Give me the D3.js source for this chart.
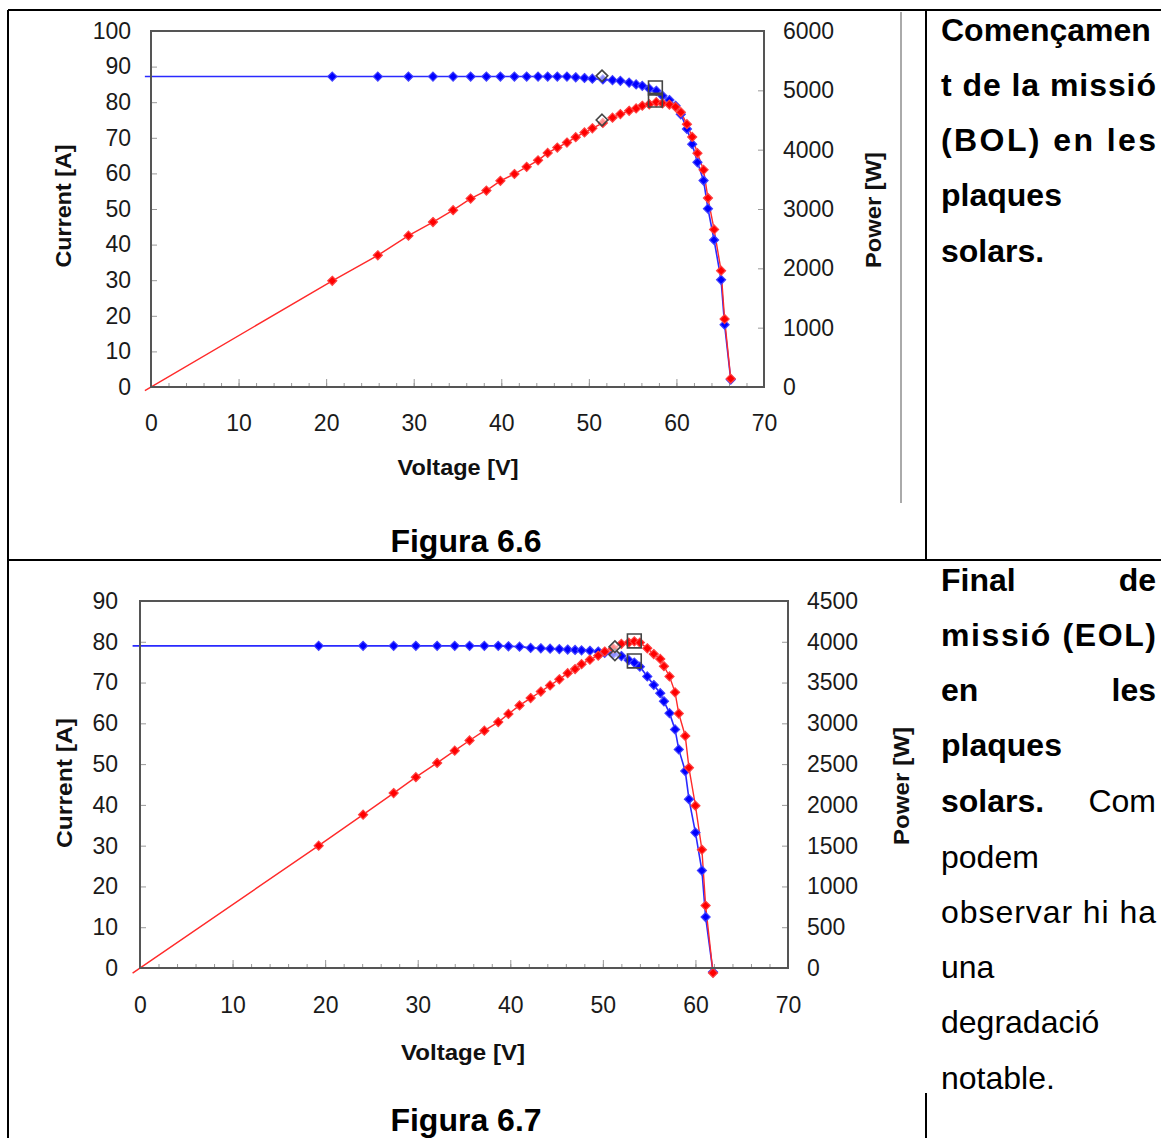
<!DOCTYPE html>
<html lang="ca">
<head>
<meta charset="utf-8">
<title>Figura 6.6 i 6.7</title>
<script src="https://cdn.jsdelivr.net/npm/d3@7"></script>
<style>
  body { margin: 0; background: #fff; }
  svg text { font-family: "Liberation Sans", Arial, sans-serif; }
  .tick text { font-size: 23px; fill: #1a1a1a; }
  .tick line { stroke: #999; }
  .axis-title { font-size: 22px; font-weight: bold; fill: #111; }
  .doc { font-size: 32px; fill: #000; }
  .bold { font-weight: bold; }
</style>
</head>
<body>
<div id="page"></div>
<script>
"use strict"

// Figura 6.6 - començament de la missió (BOL)
var voltBOL = [-0.7, 20.7, 25.9, 29.4, 32.2, 34.5, 36.5, 38.3, 39.9, 41.5, 42.9, 44.2, 45.3, 46.4, 47.5,
               48.5, 49.5, 50.4, 51.6, 52.7, 53.6, 54.6, 55.4, 56.1, 56.9, 57.7, 58.4, 59.2, 59.9, 60.5,
               61.2, 61.8, 62.4, 63.1, 63.6, 64.3, 65.1, 65.5, 66.2];
var currentBOL = [87.2, 87.2, 87.2, 87.2, 87.2, 87.2, 87.2, 87.2, 87.2, 87.2, 87.2, 87.2, 87.2, 87.2, 87.2,
                  87.0, 86.8, 86.6, 86.4, 86.2, 86.0, 85.5, 85.0, 84.6, 83.8, 83.2, 81.8, 80.6, 79.0, 76.6,
                  72.5, 68.2, 63.1, 58.0, 50.1, 41.3, 30.1, 17.5, 2.1];
var powerBOL = [-61, 1790, 2220, 2550, 2780, 2980, 3175, 3310, 3475, 3590, 3710, 3820, 3945, 4035, 4120,
                4210, 4290, 4360, 4450, 4540, 4600, 4655, 4695, 4740, 4765, 4800, 4780, 4760, 4720, 4630,
                4430, 4215, 3940, 3660, 3185, 2655, 1960, 1145, 140];
// punts marcats: [volts, corrent, potència]
var diamondBOL = [51.5, 87.4, 4500];
var squareBOL = [57.6, 84.0, 4835];

// Figura 6.7 - final de missió (EOL)
var voltEOL = [-0.8, 19.3, 24.1, 27.4, 29.8, 32.1, 34.0, 35.6, 37.2, 38.7, 39.8, 41.0, 42.2, 43.3, 44.3,
               45.3, 46.2, 47.0, 47.7, 48.6, 49.5, 50.2, 51.1, 52.0, 52.8, 53.4, 54.0, 54.8, 55.5, 56.2,
               56.6, 57.2, 57.8, 58.2, 58.9, 59.3, 60.0, 60.7, 61.1, 61.9];
var currentEOL = [79.0, 79.0, 79.0, 79.0, 79.0, 79.0, 79.0, 79.0, 79.0, 79.0, 78.9, 78.8, 78.5, 78.4, 78.3,
                  78.2, 78.1, 78.0, 77.9, 77.8, 77.6, 77.3, 77.0, 76.5, 75.5, 74.9, 73.9, 71.5, 69.4, 67.4,
                  65.4, 62.5, 58.5, 53.6, 48.3, 41.4, 33.2, 23.9, 12.5, -1.0];
var powerEOL = [-63, 1500, 1880, 2145, 2340, 2515, 2665, 2790, 2910, 3015, 3115, 3220, 3310, 3390, 3465,
                3540, 3615, 3665, 3725, 3780, 3830, 3880, 3920, 3975, 3990, 4005, 3990, 3920, 3850, 3790,
                3700, 3575, 3380, 3120, 2845, 2455, 1990, 1450, 765, -60];
var diamondEOL = [51.3, 76.8, 3940];
var squareEOL = [53.4, 75.3, 4010];

// eixos
var voltTicks = [0, 10, 20, 30, 40, 50, 60, 70];
var voltMinor = d3.range(0, 71, 2);
var currentTicksBOL = [0, 10, 20, 30, 40, 50, 60, 70, 80, 90, 100];
var powerTicksBOL = [0, 1000, 2000, 3000, 4000, 5000, 6000];
var currentTicksEOL = [0, 10, 20, 30, 40, 50, 60, 70, 80, 90];
var powerTicksEOL = [0, 500, 1000, 1500, 2000, 2500, 3000, 3500, 4000, 4500];

var svg = d3.select('#page').append('svg')
  .attr('width', 1161).attr('height', 1138);

function zip(v, i, p) {
  return v.map(function (d, k) { return {v: d, i: i[k], p: p[k]}; });
}

function drawChart(c) {
  var g = svg.append('g');
  var rows = zip(c.volt, c.current, c.power);
  var x = d3.scaleLinear().domain([0, 70]).range([c.left, c.right]);
  var yI = d3.scaleLinear().domain([0, c.iMax]).range([c.bottom, c.top]);
  var yP = d3.scaleLinear().domain([0, c.pMax]).range([c.bottom, c.top]);
  var plain = d3.format('d');

  function clean(sel) { sel.select('.domain').remove(); }

  g.append('g').attr('transform', 'translate(' + c.left + ',0)')
    .call(d3.axisLeft(yI).tickValues(c.iTicks).tickFormat(plain)
      .tickSizeInner(-6).tickSizeOuter(0).tickPadding(c.padL))
    .call(clean);
  g.append('g').attr('transform', 'translate(' + c.right + ',0)')
    .call(d3.axisRight(yP).tickValues(c.pTicks).tickFormat(plain)
      .tickSizeInner(-6).tickSizeOuter(0).tickPadding(c.padR))
    .call(clean);
  g.append('g').attr('transform', 'translate(0,' + c.bottom + ')')
    .call(d3.axisBottom(x).tickValues(voltMinor).tickSizeInner(-4).tickSizeOuter(0).tickFormat(''))
    .call(clean);
  g.append('g').attr('transform', 'translate(0,' + c.bottom + ')')
    .call(d3.axisBottom(x).tickValues(voltTicks).tickFormat(plain)
      .tickSizeInner(-8).tickSizeOuter(0).tickPadding(c.padB))
    .call(clean);
  g.selectAll('.tick text').attr('font-family', null).attr('font-size', null);

  // corbes
  var lineI = d3.line().x(function (d) { return x(d.v); }).y(function (d) { return yI(d.i); });
  var lineP = d3.line().x(function (d) { return x(d.v); }).y(function (d) { return yP(d.p); });

  g.append('path').datum(rows).attr('d', lineI)
    .attr('fill', 'none').attr('stroke', '#2a2aff').attr('stroke-width', 1.6);
  g.append('path').datum(rows).attr('d', lineP)
    .attr('fill', 'none').attr('stroke', '#ff2a2a').attr('stroke-width', 1.4);

  var marker = d3.symbol().type(d3.symbolDiamond2).size(52);
  var pts = rows.filter(function (d) { return d.v > 1; });
  g.selectAll('.mi').data(pts).enter().append('path')
    .attr('d', marker)
    .attr('transform', function (d) { return 'translate(' + x(d.v) + ',' + yI(d.i) + ')'; })
    .attr('fill', '#0000ff').attr('stroke', '#4040ff').attr('stroke-width', 1.2);
  g.selectAll('.mp').data(pts).enter().append('path')
    .attr('d', marker)
    .attr('transform', function (d) { return 'translate(' + x(d.v) + ',' + yP(d.p) + ')'; })
    .attr('fill', '#ff0000').attr('stroke', '#ff4040').attr('stroke-width', 1.2);

  // rombe i quadrat (punts de referència)
  var dia = d3.symbol().type(d3.symbolDiamond2).size(85);
  var sq = d3.symbol().type(d3.symbolSquare).size(190);
  [[c.diamond, dia, 'rgba(255,255,255,0.55)'], [c.square, sq, 'none']].forEach(function (s) {
    var m = s[0];
    [yI(m[1]), yP(m[2])].forEach(function (yy) {
      g.append('path').attr('d', s[1])
        .attr('transform', 'translate(' + x(m[0]) + ',' + yy + ')')
        .attr('fill', s[2]).attr('stroke', '#444').attr('stroke-width', 1.6);
    });
  });

  // marc
  g.append('rect')
    .attr('x', c.left).attr('y', c.top)
    .attr('width', c.right - c.left).attr('height', c.bottom - c.top)
    .attr('fill', 'none').attr('stroke', '#555').attr('stroke-width', 2);

  // títols d'eixos
  g.append('text').attr('class', 'axis-title')
    .attr('x', c.vTitle[0]).attr('y', c.vTitle[1]).attr('dy', '0.35em')
    .attr('text-anchor', 'middle').attr('textLength', c.vTitle[2]).attr('lengthAdjust', 'spacingAndGlyphs')
    .text('Voltage [V]');
  g.append('text').attr('class', 'axis-title')
    .attr('transform', 'translate(' + c.iTitle[0] + ',' + c.iTitle[1] + ') rotate(-90)').attr('dy', '0.35em')
    .attr('text-anchor', 'middle').attr('textLength', c.iTitle[2]).attr('lengthAdjust', 'spacingAndGlyphs')
    .text('Current [A]');
  g.append('text').attr('class', 'axis-title')
    .attr('transform', 'translate(' + c.pTitle[0] + ',' + c.pTitle[1] + ') rotate(-90)').attr('dy', '0.35em')
    .attr('text-anchor', 'middle').attr('textLength', c.pTitle[2]).attr('lengthAdjust', 'spacingAndGlyphs')
    .text('Power [W]');
}

drawChart({
  volt: voltBOL, current: currentBOL, power: powerBOL,
  diamond: diamondBOL, square: squareBOL,
  iMax: 100, pMax: 6000, iTicks: currentTicksBOL, pTicks: powerTicksBOL,
  left: 151, right: 764, top: 31, bottom: 387,
  padL: 20, padR: 19, padB: 28,
  vTitle: [458, 467, 121], iTitle: [63, 206, 123], pTitle: [873, 210, 116]
});

drawChart({
  volt: voltEOL, current: currentEOL, power: powerEOL,
  diamond: diamondEOL, square: squareEOL,
  iMax: 90, pMax: 4500, iTicks: currentTicksEOL, pTicks: powerTicksEOL,
  left: 140, right: 788, top: 601, bottom: 968,
  padL: 22, padR: 19, padB: 29,
  vTitle: [463, 1052, 124], iTitle: [64, 783, 130], pTitle: [901, 786, 118]
});

// taula del document
var border = svg.append('g').attr('stroke', '#000').attr('stroke-width', 2);
border.append('line').attr('x1', 8).attr('y1', 10).attr('x2', 1161).attr('y2', 10);
border.append('line').attr('x1', 8).attr('y1', 10).attr('x2', 8).attr('y2', 1138);
border.append('line').attr('x1', 926).attr('y1', 10).attr('x2', 926).attr('y2', 560);
border.append('line').attr('x1', 8).attr('y1', 560).attr('x2', 1161).attr('y2', 560);
border.append('line').attr('x1', 926).attr('y1', 1093).attr('x2', 926).attr('y2', 1138);
svg.append('line').attr('x1', 901).attr('y1', 12).attr('x2', 901).attr('y2', 503)
  .attr('stroke', '#aaa').attr('stroke-width', 2);

svg.append('text').attr('class', 'doc bold').attr('x', 466).attr('y', 552)
  .attr('text-anchor', 'middle').text('Figura 6.6');
svg.append('text').attr('class', 'doc bold').attr('x', 466).attr('y', 1131)
  .attr('text-anchor', 'middle').text('Figura 6.7');

// text de la columna dreta
var textL = 941, textR = 1156;
function put(txt, y, bold, mode) {
  var t = svg.append('text').attr('class', 'doc' + (bold ? ' bold' : '')).attr('y', y).text(txt);
  if (mode === 'end') t.attr('x', textR).attr('text-anchor', 'end');
  else t.attr('x', textL);
  if (mode === 'just') t.attr('textLength', textR - textL).attr('lengthAdjust', 'spacing');
}
put('Començamen', 41, true);
put('t de la missió', 96, true, 'just');
put('(BOL) en les', 151, true, 'just');
put('plaques', 206, true);
put('solars.', 262, true);

put('Final', 591, true);
put('de', 591, true, 'end');
put('missió (EOL)', 646, true, 'just');
put('en', 701, true);
put('les', 701, true, 'end');
put('plaques', 756, true);
put('solars.', 812, true);
put('Com', 812, false, 'end');
put('podem', 868, false);
put('observar hi ha', 923, false, 'just');
put('una', 978, false);
put('degradació', 1033, false);
put('notable.', 1089, false);
</script>
</body>
</html>
